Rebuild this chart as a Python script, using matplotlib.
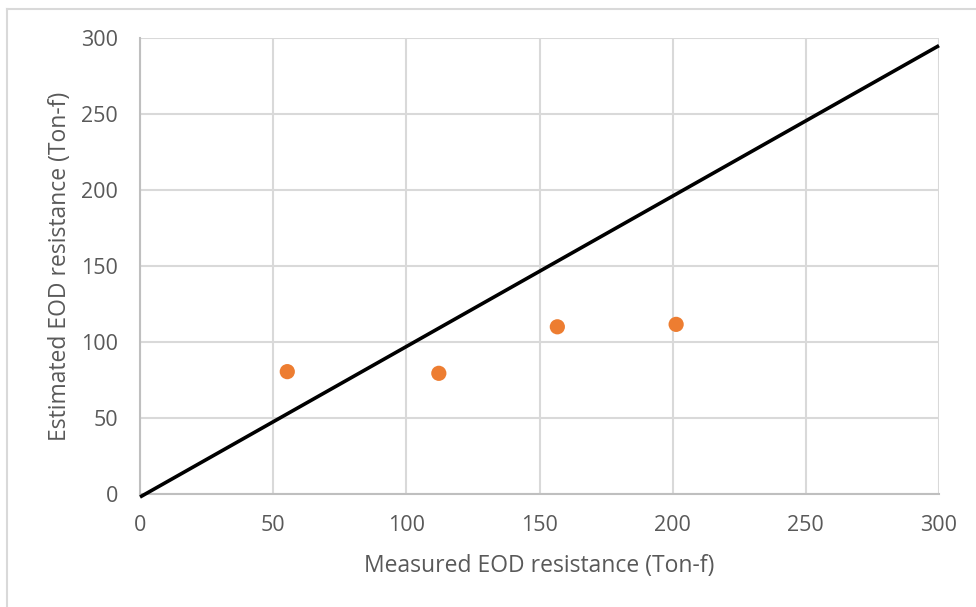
import matplotlib
matplotlib.use("Agg")
import matplotlib.pyplot as plt
from matplotlib.lines import Line2D

plt.rcParams["font.family"] = ["Open Sans", "DejaVu Sans"]

# measured vs estimated points
measured = [55.3, 112.2, 156.7, 201.3]
estimated = [80.5, 79.4, 110.0, 111.6]

# reference line end points
line_x = [0, 300]
line_y = [-2, 295]

ticks = [0, 50, 100, 150, 200, 250, 300]

text_col = "#595959"

fig = plt.figure(figsize=(9.76, 6.07), dpi=100)
ax = fig.add_axes([140 / 976, 1 - 494 / 607, 799 / 976, 456 / 607])

ax.plot(line_x, line_y, color="black", lw=2.6, solid_capstyle="butt", zorder=3, clip_on=False)
ax.scatter(measured, estimated, s=120, color="#ED7D31", edgecolors="none", zorder=4)

ax.set_xlim(0, 300)
ax.set_ylim(0, 300)
ax.set_xticks(ticks)
ax.set_yticks(ticks)
ax.grid(True, color="#d9d9d9", lw=1.5)
ax.set_axisbelow(True)

for s in ["top", "right"]:
    ax.spines[s].set_visible(False)
for s in ["left", "bottom"]:
    ax.spines[s].set_color("#bfbfbf")
    ax.spines[s].set_linewidth(1.5)

ax.tick_params(length=0, labelsize=15.5, labelcolor=text_col)
ax.tick_params(axis="x", pad=15)
ax.tick_params(axis="y", pad=16)
ax.set_xlabel("Measured EOD resistance (Ton-f)", fontsize=16.5, color=text_col, labelpad=13)
ax.set_ylabel("Estimated EOD resistance (Ton-f)", fontsize=16.5, color=text_col, labelpad=6)

# chart border (left and top visible)
fig.add_artist(Line2D([7 / 976, 7 / 976], [0, 1 - 9 / 607], color="#d9d9d9", lw=1.5))
fig.add_artist(Line2D([7 / 976, 1], [1 - 9 / 607, 1 - 9 / 607], color="#d9d9d9", lw=1.5))

fig.savefig("out.png", dpi=100)
